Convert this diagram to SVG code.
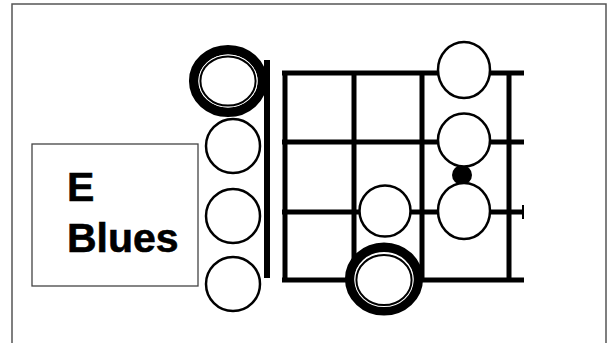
<svg xmlns="http://www.w3.org/2000/svg" width="613" height="343" viewBox="0 0 613 343">
<style>
.ln{stroke:#000;stroke-width:5;fill:none}
.c{fill:#fff;stroke:#000;stroke-width:2.5}
.ring{fill:#fff;stroke:#000;stroke-width:9.5}
.inner{fill:none;stroke:#000;stroke-width:2}
.gap{fill:none;stroke:#fff;stroke-width:1.4}
.lbl{font-family:"Liberation Sans",Arial,sans-serif;font-weight:bold;font-size:41px;fill:#000;stroke:#000;stroke-width:0.6}
</style>
<rect x="0" y="0" width="613" height="343" fill="#fff"/>
<rect x="12" y="4" width="594" height="350" fill="none" stroke="#555" stroke-width="1.5"/>
<g id="connectors">
<line class="ln" x1="282" y1="73" x2="524" y2="73"/>
<line class="ln" x1="282" y1="142" x2="524" y2="142"/>
<line class="ln" x1="282" y1="212" x2="524" y2="212"/>
<line class="ln" x1="282" y1="280" x2="524" y2="280"/>
<line class="ln" x1="285" y1="71" x2="285" y2="282"/>
<line class="ln" x1="354" y1="71" x2="354" y2="282"/>
<line class="ln" x1="422" y1="71" x2="422" y2="282"/>
<line class="ln" x1="509" y1="71" x2="509" y2="282"/>
<line x1="523" y1="205" x2="523" y2="219" stroke="#000" stroke-width="2"/>
<line x1="267" y1="60" x2="267" y2="278" stroke="#000" stroke-width="6"/>
</g>
<g id="label">
<rect x="32" y="144" width="166" height="142" fill="#fff" stroke="#444" stroke-width="1.3"/>
<text class="lbl" x="67" y="201">E</text>
<text class="lbl" x="67" y="252">Blues</text>
</g>
<g id="open-e-root">
<ellipse class="ring" cx="228" cy="81" rx="34.3" ry="31.3"/>
<ellipse class="gap" cx="228" cy="81" rx="28.9" ry="25.9"/>
<ellipse class="inner" cx="228" cy="81" rx="27.6" ry="24.6"/>
</g>
<g id="open-2"><circle class="c" cx="233" cy="146" r="27"/></g>
<g id="open-3"><circle class="c" cx="233" cy="216" r="27"/></g>
<g id="open-4"><circle class="c" cx="233" cy="284" r="27"/></g>
<g id="dot"><circle cx="462" cy="175" r="10" fill="#000"/></g>
<g id="f3-s1"><ellipse class="c" cx="464" cy="70" rx="26" ry="28"/></g>
<g id="f3-s2"><ellipse class="c" cx="464" cy="140" rx="26" ry="26.5"/></g>
<g id="f3-s3"><ellipse class="c" cx="464" cy="211" rx="26" ry="28"/></g>
<g id="f2-s3"><circle class="c" cx="385" cy="211" r="25.5"/></g>
<g id="f2-root">
<ellipse class="ring" cx="384" cy="279" rx="34.3" ry="31.8"/>
<ellipse class="gap" cx="384" cy="280" rx="28.9" ry="26.4"/>
<ellipse class="inner" cx="384" cy="280" rx="27.6" ry="25.1"/>
</g>
</svg>
